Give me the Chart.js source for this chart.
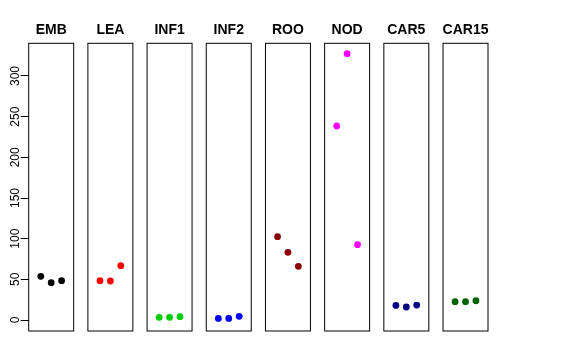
<!DOCTYPE html>
<html>
<head>
<meta charset="utf-8">
<script src="https://cdn.jsdelivr.net/npm/chart.js@4.4.1/dist/chart.umd.min.js"></script>
<style>
  html, body { margin: 0; padding: 0; background: #fff; }
  #wrap { width: 576px; height: 360px; }
</style>
</head>
<body>
<div id="wrap"><canvas id="chart" width="576" height="360"></canvas></div>
<script>
// one panel per tissue, three replicates each
const tissues = ["EMB", "LEA", "INF1", "INF2", "ROO", "NOD", "CAR5", "CAR15"];
const colors = ["#000000", "#ff0000", "#00cd00", "#0000ff", "#8b0000", "#ff00ff", "#000080", "#006400"];
const rep1 = [53.7, 48.4, 3.3, 2.0, 102.5, 238.5, 18.0, 22.5];
const rep2 = [45.9, 48.0, 3.3, 2.0, 83.2, 327.5, 16.0, 22.5];
const rep3 = [48.4, 66.8, 4.1, 4.5, 66.0, 92.6, 18.4, 23.7];
const yTicks = [0, 50, 100, 150, 200, 250, 300];

// panel geometry in x units (each panel shows 0..4, R-style 4% padding)
const X_LO = -0.16;
const X_HI = 4.16;
const PITCH = 5.685;

const datasets = tissues.map((name, i) => ({
  label: name,
  data: [rep1[i], rep2[i], rep3[i]].map((v, j) => ({ x: i * PITCH + j + 1, y: v })),
  backgroundColor: colors[i],
  borderWidth: 0,
  pointRadius: 3.4,
}));

const panelPlugin = {
  id: "panels",
  afterDraw(chart) {
    const { ctx, chartArea, scales } = chart;
    const xs = scales.x, ys = scales.y;
    ctx.save();
    ctx.strokeStyle = "#000";
    ctx.lineWidth = 1;
    ctx.fillStyle = "#000";
    ctx.font = "bold 14px 'Liberation Sans', Arial, sans-serif";
    ctx.textAlign = "center";
    ctx.textBaseline = "middle";
    tissues.forEach((name, i) => {
      const l = xs.getPixelForValue(i * PITCH + X_LO);
      const r = xs.getPixelForValue(i * PITCH + X_HI);
      ctx.strokeRect(l, chartArea.top, r - l, chartArea.bottom - chartArea.top);
      ctx.fillText(name, (l + r) / 2, chartArea.top - 13);
    });
    // rotated y tick labels, R style
    ctx.font = "12px 'Liberation Sans', Arial, sans-serif";
    ctx.textBaseline = "alphabetic";
    ys.ticks.forEach(t => {
      const y = ys.getPixelForValue(t.value);
      ctx.save();
      ctx.translate(19.3, y);
      ctx.rotate(-Math.PI / 2);
      ctx.fillText(String(t.value), 0, 0);
      ctx.restore();
    });
    ctx.restore();
  },
};

new Chart(document.getElementById("chart").getContext("2d"), {
  type: "scatter",
  data: { datasets },
  options: {
    responsive: false,
    animation: false,
    devicePixelRatio: 1,
    layout: { padding: { top: 43.3, bottom: 29, right: 88, left: 0 } },
    plugins: { legend: { display: false }, tooltip: { enabled: false } },
    scales: {
      x: {
        type: "linear",
        display: false,
        min: X_LO,
        max: (tissues.length - 1) * PITCH + X_HI,
      },
      y: {
        type: "linear",
        min: -13.5,
        max: 340.2,
        afterBuildTicks: scale => { scale.ticks = yTicks.map(v => ({ value: v })); },
        afterFit: scale => { scale.width = 28.7; },
        ticks: { display: false },
        grid: { drawOnChartArea: false, drawTicks: true, tickLength: 8, color: "#000", lineWidth: 1 },
        border: { display: false },
      },
    },
  },
  plugins: [panelPlugin],
});
</script>
</body>
</html>
